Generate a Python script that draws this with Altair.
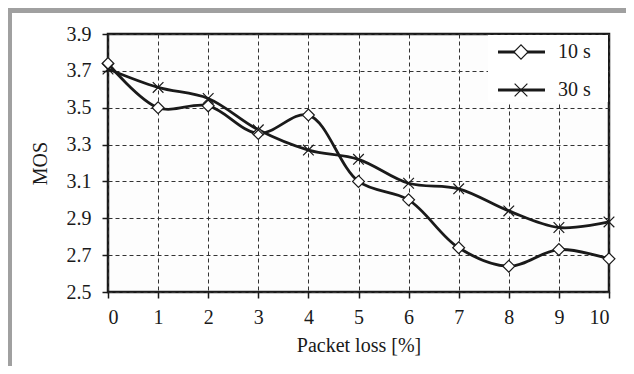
import altair as alt
import pandas as pd

packet_loss = list(range(11))
mos_10s = [3.74, 3.50, 3.51, 3.36, 3.46, 3.10, 3.00, 2.74, 2.64, 2.73, 2.68]
mos_30s = [3.71, 3.61, 3.55, 3.38, 3.27, 3.22, 3.09, 3.06, 2.94, 2.85, 2.88]
series_names = ["10 s", "30 s"]
y_ticks = [2.5, 2.7, 2.9, 3.1, 3.3, 3.5, 3.7, 3.9]
x_ticks = packet_loss

df = pd.DataFrame({
    "loss": packet_loss * 2,
    "mos": mos_10s + mos_30s,
    "series": [series_names[0]] * len(mos_10s) + [series_names[1]] * len(mos_30s),
})

FONT = "Liberation Serif"
TXT = "#1a1a1a"
INK = "#1a1a1a"

x_enc = alt.X(
    "loss:Q",
    scale=alt.Scale(domain=[0, 10], nice=False),
    axis=alt.Axis(values=x_ticks, format="d", title="Packet loss [%]",
                  labelPadding=9, titlePadding=8),
)
y_enc = alt.Y(
    "mos:Q",
    scale=alt.Scale(domain=[2.5, 3.9], nice=False, zero=False),
    axis=alt.Axis(values=y_ticks, format=".1f", title="MOS",
                  labelPadding=11, titlePadding=16),
)

X_PATH = "M-0.9,-0.9L0.9,0.9M-0.9,0.9L0.9,-0.9"
shapes = ["diamond", X_PATH]

lines = alt.Chart(df).mark_line(
    interpolate="catmull-rom", color=INK, strokeWidth=2.8
).encode(x=x_enc, y=y_enc, detail="series:N")

points = alt.Chart(df).mark_point(
    filled=True, fill="white", stroke=INK, strokeWidth=1.2, size=140, opacity=1
).encode(
    x=x_enc,
    y=y_enc,
    shape=alt.Shape(
        "series:N",
        scale=alt.Scale(domain=series_names, range=shapes),
        legend=None,
    ),
)

# --- legend box in the upper-right corner ---
one = pd.DataFrame({"k": [0]})
legend_layers = [
    alt.Chart(one).mark_rect(color="white", clip=False).encode(
        x=alt.value(380), x2=alt.value(500), y=alt.value(1), y2=alt.value(68)
    )
]
for i, name in enumerate(series_names):
    yc = 18 + 38 * i
    legend_layers.append(
        alt.Chart(one).mark_rule(color=INK, strokeWidth=2.8, clip=False).encode(
            x=alt.value(390), x2=alt.value(437), y=alt.value(yc)
        )
    )
    legend_layers.append(
        alt.Chart(one).mark_point(
            filled=True, fill="white", stroke=INK, strokeWidth=1.2,
            size=200, shape=shapes[i], opacity=1, clip=False
        ).encode(x=alt.value(413), y=alt.value(yc))
    )
    legend_layers.append(
        alt.Chart(one).mark_text(
            text=name, font=FONT, fontSize=20, color=TXT, align="left",
            baseline="middle", clip=False
        ).encode(x=alt.value(450), y=alt.value(yc))
    )

top_bar = alt.Chart(one).mark_rect(color="#a0a0a0", clip=False).encode(
    x=alt.value(-100), x2=alt.value(526), y=alt.value(-26), y2=alt.value(-21)
)
left_bar = alt.Chart(one).mark_rect(color="#a0a0a0", clip=False).encode(
    x=alt.value(-100), x2=alt.value(-96), y=alt.value(-26), y2=alt.value(340)
)

chart = alt.layer(lines, points, *legend_layers, top_bar, left_bar).properties(
    width=501,
    height=258,
    autosize=alt.AutoSizeParams(type="none"),
    padding={"left": 100, "top": 26, "right": 17, "bottom": 74},
    background="white",
).configure_view(
    stroke=INK, strokeWidth=2.5, fill="#fdfdfd"
).configure_axis(
    labelFont=FONT, labelFontSize=20, labelColor=TXT,
    titleFont=FONT, titleFontSize=20, titleColor=TXT, titleFontWeight="normal",
    domain=False, ticks=True, tickColor=INK, tickSize=6, tickWidth=1.5,
    grid=True, gridColor="#333333", gridDash=[4, 3], gridWidth=1,
)

chart.save("out.html", embed_options={"renderer": "svg", "actions": False})
